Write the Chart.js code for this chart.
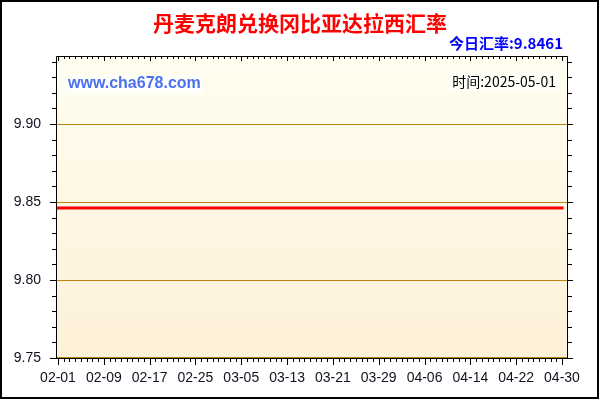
<!DOCTYPE html>
<html><head><meta charset="utf-8">
<script src="https://cdn.jsdelivr.net/npm/chart.js@4/dist/chart.umd.min.js"></script>
<style>html,body{margin:0;padding:0;background:#fff}canvas{display:block}</style>
</head><body>
<div style="width:600px;height:400px"><canvas id="c" width="600" height="400"></canvas></div>
<script>
const titleText = '丹麦克朗兑换冈比亚达拉西汇率';
const todayRate = '今日汇率:9.8461';
const siteText = 'www.cha678.com';
const timeText = '时间:2025-05-01';

const dates = [
 '02-01','02-02','02-03','02-04','02-05','02-06','02-07','02-08','02-09','02-10',
 '02-11','02-12','02-13','02-14','02-15','02-16','02-17','02-18','02-19','02-20',
 '02-21','02-22','02-23','02-24','02-25','02-26','02-27','02-28',
 '03-01','03-02','03-03','03-04','03-05','03-06','03-07','03-08','03-09','03-10',
 '03-11','03-12','03-13','03-14','03-15','03-16','03-17','03-18','03-19','03-20',
 '03-21','03-22','03-23','03-24','03-25','03-26','03-27','03-28','03-29','03-30','03-31',
 '04-01','04-02','04-03','04-04','04-05','04-06','04-07','04-08','04-09','04-10',
 '04-11','04-12','04-13','04-14','04-15','04-16','04-17','04-18','04-19','04-20',
 '04-21','04-22','04-23','04-24','04-25','04-26','04-27','04-28','04-29','04-30'
];

const rates = [
 9.8461,9.8461,9.8461,9.8461,9.8461,9.8461,9.8461,9.8461,9.8461,9.8461,
 9.8461,9.8461,9.8461,9.8461,9.8461,9.8461,9.8461,9.8461,9.8461,9.8461,
 9.8461,9.8461,9.8461,9.8461,9.8461,9.8461,9.8461,9.8461,
 9.8461,9.8461,9.8461,9.8461,9.8461,9.8461,9.8461,9.8461,9.8461,9.8461,
 9.8461,9.8461,9.8461,9.8461,9.8461,9.8461,9.8461,9.8461,9.8461,9.8461,
 9.8461,9.8461,9.8461,9.8461,9.8461,9.8461,9.8461,9.8461,9.8461,9.8461,9.8461,
 9.8461,9.8461,9.8461,9.8461,9.8461,9.8461,9.8461,9.8461,9.8461,9.8461,
 9.8461,9.8461,9.8461,9.8461,9.8461,9.8461,9.8461,9.8461,9.8461,9.8461,
 9.8461,9.8461,9.8461,9.8461,9.8461,9.8461,9.8461,9.8461,9.8461,9.8461
];

const yMin = 9.75, yMax = 9.9436, yStep = 0.05, yMinorStep = 0.01;
const xLabelStep = 8;

const points = rates.map((v, i) => ({x: i, y: v}));

const deco = {
  id: 'deco',
  beforeDraw(chart) {
    const {ctx, chartArea: a} = chart;
    ctx.save();
    ctx.fillStyle = '#ffffff';
    ctx.fillRect(0, 0, chart.width, chart.height);
    const g = ctx.createLinearGradient(0, a.top, 0, a.bottom);
    g.addColorStop(0, '#FFFEF0');
    g.addColorStop(1, '#FDF0D8');
    ctx.fillStyle = g;
    ctx.fillRect(a.left, a.top, a.right - a.left, a.bottom - a.top);
    ctx.restore();
  },
  afterDraw(chart) {
    const {ctx, chartArea: a, scales: {x, y}} = chart;
    ctx.save();
    ctx.strokeStyle = '#000';
    ctx.lineWidth = 2;
    ctx.strokeRect(1, 1, chart.width - 3, chart.height - 3);
    ctx.lineWidth = 1;
    ctx.beginPath();
    ctx.moveTo(a.left + 0.5, a.bottom + 0.5);
    ctx.lineTo(a.left + 0.5, a.top + 0.5);
    ctx.lineTo(a.right - 0.5, a.top + 0.5);
    ctx.lineTo(a.right - 0.5, a.bottom + 0.5);
    ctx.stroke();
    ctx.beginPath();
    for (let i = 0; i < dates.length; i++) {
      const px = Math.round(x.getPixelForValue(i)) + 0.5;
      const major = i % xLabelStep === 0;
      ctx.moveTo(px, a.bottom);
      ctx.lineTo(px, a.bottom + (major ? 7 : 4));
      ctx.moveTo(px, a.top);
      ctx.lineTo(px, a.top + (major ? 5 : 3));
    }
    ctx.moveTo(a.left, a.bottom + 0.5);
    ctx.lineTo(a.right, a.bottom + 0.5);
    for (let k = 0; ; k++) {
      const v = yMin + k * yMinorStep;
      if (v > yMax + 1e-9) break;
      const py = Math.round(y.getPixelForValue(v)) + 0.5;
      const major = k % 5 === 0;
      ctx.moveTo(a.left, py);
      ctx.lineTo(a.left - (major ? 6 : 4), py);
      ctx.moveTo(a.right, py);
      ctx.lineTo(a.right + (major ? 5 : 4), py);
    }
    ctx.stroke();
    ctx.strokeStyle = '#B8860B';
    ctx.beginPath();
    ctx.moveTo(a.left + 1, a.bottom - 0.5);
    ctx.lineTo(a.right - 1, a.bottom - 0.5);
    ctx.stroke();

    ctx.textBaseline = 'middle';
    ctx.fillStyle = '#FF0000';
    ctx.font = 'bold 21px "Noto Sans CJK SC", sans-serif';
    ctx.textAlign = 'center';
    ctx.fillText(titleText, 300, 23);

    ctx.fillStyle = '#0000FF';
    ctx.font = 'bold 15px "Noto Sans CJK SC", "Liberation Sans", sans-serif';
    ctx.textAlign = 'right';
    ctx.fillText(todayRate, 563, 43);

    ctx.font = 'bold 16px "Liberation Sans", Arial, sans-serif';
    const sw = ctx.measureText(siteText).width;
    ctx.fillStyle = '#FFFFFA';
    ctx.fillRect(66, 75, sw + 4, 19);
    ctx.fillStyle = '#4A70F0';
    ctx.textAlign = 'left';
    ctx.fillText(siteText, 68, 84);

    ctx.font = '14px "Noto Sans CJK SC", "Liberation Sans", sans-serif';
    const tw = ctx.measureText(timeText).width;
    ctx.fillStyle = '#FFFFFA';
    ctx.fillRect(556 - tw - 2, 73, tw + 4, 18);
    ctx.fillStyle = '#000000';
    ctx.textAlign = 'right';
    ctx.fillText(timeText, 556, 82);
    ctx.restore();
  }
};

new Chart(document.getElementById('c'), {
  type: 'line',
  data: {
    datasets: [{
      data: points,
      borderColor: '#FF0000',
      borderWidth: 3,
      borderCapStyle: 'square',
      pointRadius: 0,
      tension: 0,
      fill: false
    }]
  },
  options: {
    responsive: false,
    animation: false,
    events: [],
    layout: {padding: {top: 56, right: 32, bottom: 0, left: 0}},
    plugins: {legend: {display: false}, tooltip: {enabled: false}, title: {display: false}},
    scales: {
      x: {
        type: 'linear',
        min: -0.35,
        max: 89.05,
        afterFit(s) { s.height = 42; },
        grid: {display: false, drawTicks: false},
        border: {display: false},
        ticks: {
          stepSize: xLabelStep,
          includeBounds: false,
          autoSkip: false,
          maxRotation: 0,
          padding: 12,
          color: '#111122',
          font: {family: '"Liberation Sans", Arial, sans-serif', size: 14},
          callback: (v) => dates[v] !== undefined ? dates[v] : ''
        }
      },
      y: {
        type: 'linear',
        min: yMin,
        max: yMax,
        afterFit(s) { s.width = 56; },
        grid: {color: '#B8860B', lineWidth: 1, drawTicks: false},
        border: {display: false},
        ticks: {
          stepSize: yStep,
          includeBounds: false,
          padding: 15,
          color: '#111122',
          font: {family: '"Liberation Sans", Arial, sans-serif', size: 14},
          callback: (v) => v.toFixed(2)
        }
      }
    }
  },
  plugins: [deco]
});
</script>
</body></html>
